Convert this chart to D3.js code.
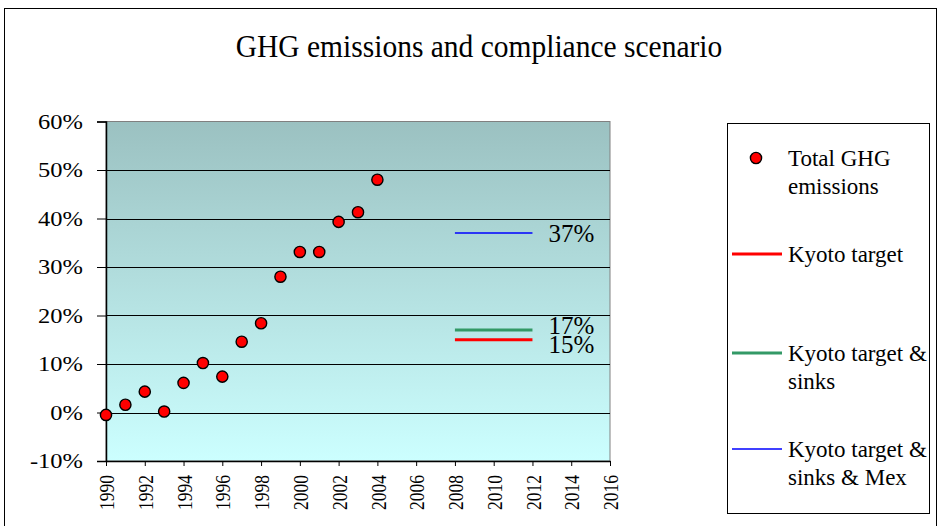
<!DOCTYPE html>
<html>
<head>
<meta charset="utf-8">
<script src="https://cdn.jsdelivr.net/npm/d3@7"></script>
<style>
  body { margin: 0; background: #fff; }
  svg { display: block; font-family: "Liberation Serif", "Times New Roman", serif; }
</style>
</head>
<body>
<svg id="chart" width="939" height="526"></svg>
<script>
const years = [1990, 1991, 1992, 1993, 1994, 1995, 1996, 1997, 1998, 1999, 2000, 2001, 2002, 2003, 2004];
const emissions = [-0.5, 1.6, 4.3, 0.2, 6.1, 10.2, 7.4, 14.6, 18.4, 28.0, 33.1, 33.1, 39.3, 41.3, 48.0];

const targetNames = ["Kyoto target", "Kyoto target & sinks", "Kyoto target & sinks & Mex"];
const targetValues = [15, 17, 37];
const targetColors = ["#ff0000", "#339966", "#0000ff"];
const targetWidths = [3, 3, 1.5];
const targetStart = 2008, targetEnd = 2012;

const yTicks = [-10, 0, 10, 20, 30, 40, 50, 60];
const xTicks = [1990, 1992, 1994, 1996, 1998, 2000, 2002, 2004, 2006, 2008, 2010, 2012, 2014, 2016];

const FONT = "Liberation Serif, Times New Roman, serif";
const svg = d3.select("#chart");

// outer frame
svg.append("rect")
  .attr("x", 4.5).attr("y", 8.5)
  .attr("width", 932).attr("height", 530)
  .attr("fill", "none").attr("stroke", "#000").attr("stroke-width", 1);

svg.append("text")
  .attr("transform", "translate(479,56.5) scale(1,1.1)")
  .attr("text-anchor", "middle")
  .attr("font-size", 29.5)
  .text("GHG emissions and compliance scenario");

const plot = { left: 106, right: 610, top: 121.5, bottom: 461 };

const x = d3.scaleLinear().domain([1990, 2016]).range([plot.left, plot.right]);
const y = d3.scaleLinear().domain([-10, 60]).range([plot.bottom, plot.top]);

const defs = svg.append("defs");
const grad = defs.append("linearGradient")
  .attr("id", "bg").attr("x1", 0).attr("y1", 0).attr("x2", 0).attr("y2", 1);
grad.append("stop").attr("offset", "0%").attr("stop-color", "#9bc1c1");
grad.append("stop").attr("offset", "100%").attr("stop-color", "#ccffff");

svg.append("rect")
  .attr("x", plot.left).attr("y", plot.top)
  .attr("width", plot.right - plot.left).attr("height", plot.bottom - plot.top)
  .attr("fill", "url(#bg)")
  .attr("stroke", "#808080").attr("stroke-width", 1);

// gridlines
svg.append("g")
  .selectAll("line")
  .data(yTicks.filter(d => d > -10 && d < 60))
  .join("line")
  .attr("x1", plot.left).attr("x2", plot.right)
  .attr("y1", d => Math.round(y(d)) + 0.5).attr("y2", d => Math.round(y(d)) + 0.5)
  .attr("stroke", "#000").attr("stroke-width", 1);

// y axis
const yAxis = svg.append("g")
  .attr("transform", `translate(${plot.left},0)`)
  .call(d3.axisLeft(y).tickValues(yTicks).tickFormat(d => d + "%").tickSize(9).tickPadding(14));
yAxis.select(".domain").attr("stroke", "#000").attr("stroke-width", 1.5);
yAxis.selectAll("text")
  .attr("font-size", 24.5).attr("fill", "#000").attr("font-family", FONT)
  .attr("transform", "scale(1,0.88)");

// x axis
const xAxis = svg.append("g")
  .attr("transform", `translate(0,${plot.bottom})`)
  .call(d3.axisBottom(x).tickValues(xTicks).tickFormat(d => d).tickSize(5).tickSizeOuter(0));
xAxis.select(".domain").attr("stroke", "#000").attr("stroke-width", 1.5);
xAxis.selectAll("text")
  .attr("font-size", 17.5).attr("fill", "#000").attr("font-family", FONT)
  .attr("text-anchor", "end")
  .attr("transform", "rotate(-90) scale(1,1.25)")
  .attr("x", -14).attr("y", 0).attr("dy", "0.35em");

// target lines
const targets = targetValues.map((v, i) => ({ v, color: targetColors[i], w: targetWidths[i], ly: y(v) + 9 }));
// push apart labels that would overlap
const sorted = targets.slice().sort((a, b) => a.ly - b.ly);
for (let i = 1; i < sorted.length; i++) {
  const a = sorted[i - 1], b = sorted[i];
  if (b.ly - a.ly < 19) {
    const mid = (a.ly + b.ly) / 2;
    a.ly = mid - 9.5;
    b.ly = mid + 9.5;
  }
}

svg.append("g")
  .selectAll("line")
  .data(targets)
  .join("line")
  .attr("x1", x(targetStart)).attr("x2", x(targetEnd))
  .attr("y1", d => y(d.v)).attr("y2", d => y(d.v))
  .attr("stroke", d => d.color).attr("stroke-width", d => d.w);

svg.append("g")
  .selectAll("text")
  .data(targets)
  .join("text")
  .attr("x", x(targetEnd) + 16)
  .attr("y", d => d.ly)
  .attr("font-size", 25)
  .text(d => d.v + "%");

// emission points
svg.append("g")
  .selectAll("circle")
  .data(years.map((yr, i) => ({ yr, v: emissions[i] })))
  .join("circle")
  .attr("cx", d => x(d.yr)).attr("cy", d => y(d.v))
  .attr("r", 5.6)
  .attr("fill", "#ff0000").attr("stroke", "#000").attr("stroke-width", 1.4);

// legend
const lg = svg.append("g");
lg.append("rect")
  .attr("x", 727.5).attr("y", 123.5).attr("width", 202).attr("height", 390)
  .attr("fill", "#fff").attr("stroke", "#000").attr("stroke-width", 1);

const legendItems = [
  { lines: ["Total GHG", "emissions"], y: 158, dot: true },
  { lines: [targetNames[0]], y: 254, color: targetColors[0], w: targetWidths[0] },
  { lines: ["Kyoto target &", "sinks"], y: 353, color: targetColors[1], w: targetWidths[1] },
  { lines: ["Kyoto target &", "sinks & Mex"], y: 449, color: targetColors[2], w: targetWidths[2] }
];
legendItems.forEach(it => {
  if (it.dot) {
    lg.append("circle").attr("cx", 756).attr("cy", it.y).attr("r", 5.6)
      .attr("fill", "#ff0000").attr("stroke", "#000").attr("stroke-width", 1.4);
  } else {
    lg.append("line").attr("x1", 732).attr("x2", 782).attr("y1", it.y).attr("y2", it.y)
      .attr("stroke", it.color).attr("stroke-width", it.w);
  }
  const t = lg.append("text").attr("x", 788).attr("y", it.y + 7.5).attr("font-size", 23);
  it.lines.forEach((ln, j) => {
    t.append("tspan").attr("x", 788).attr("dy", j === 0 ? 0 : 28).text(ln);
  });
});
</script>
</body>
</html>
